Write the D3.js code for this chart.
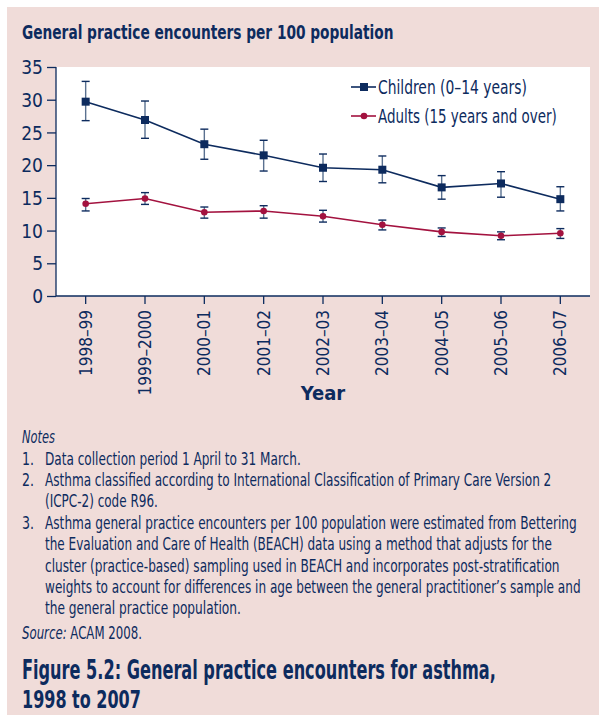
<!DOCTYPE html>
<html>
<head>
<meta charset="utf-8">
<script src="https://cdn.jsdelivr.net/npm/d3@7"></script>
<style>
  body{margin:0;background:#fff;}
  svg{display:block;}
  text{font-family:"Liberation Sans Narrow","DejaVu Sans Condensed","Roboto",sans-serif;fill:#0d2b5e;}
</style>
</head>
<body>
<div id="chart"></div>
<script>
// years on the x axis
const years = ["1998–99","1999–2000","2000–01","2001–02","2002–03","2003–04","2004–05","2005–06","2006–07"];
// children (0-14) rate, with lower / upper error bounds
const children = [29.7, 26.9, 23.2, 21.5, 19.6, 19.3, 16.6, 17.2, 14.8];
const childrenLow = [26.8, 24.1, 20.9, 19.1, 17.5, 17.3, 14.8, 15.1, 13.0];
const childrenHigh = [32.8, 29.8, 25.5, 23.8, 21.7, 21.4, 18.4, 19.0, 16.7];
// adults (15+) rate, with lower / upper error bounds
const adults = [14.1, 14.9, 12.8, 13.0, 12.2, 10.9, 9.8, 9.2, 9.6];
const adultsLow = [13.0, 14.0, 11.9, 11.9, 11.3, 10.1, 9.1, 8.6, 8.8];
const adultsHigh = [14.9, 15.8, 13.6, 13.8, 13.1, 11.6, 10.4, 9.8, 10.3];
const yTicks = [0, 5, 10, 15, 20, 25, 30, 35];
const seriesNames = ["Children (0–14 years)", "Adults (15 years and over)"];

const notes = [
  ["1.", "Data collection period 1 April to 31 March."],
  ["2.", "Asthma classified according to International Classification of Primary Care Version 2"],
  ["", "(ICPC-2) code R96."],
  ["3.", "Asthma general practice encounters per 100 population were estimated from Bettering"],
  ["", "the Evaluation and Care of Health (BEACH) data using a method that adjusts for the"],
  ["", "cluster (practice-based) sampling used in BEACH and incorporates post-stratification"],
  ["", "weights to account for differences in age between the general practitioner’s sample and"],
  ["", "the general practice population."]
];
const noteWidths = [256, 507, 113, 532, 507, 515, 536, 196];

const W = 599, H = 715;
const navy = "#0d2b5e", red = "#a3123f", errCol = "#5a7190";

const svg = d3.select("#chart").append("svg").attr("width", W).attr("height", H);

// squeeze a text sideways (condensed look) so it is as wide as in the reference
function squeeze(t, width){
  const nat = t.node().getComputedTextLength();
  if(nat <= width) return t;
  const x0 = +t.attr("x");
  t.attr("transform", `translate(${x0},0) scale(${width / nat},1) translate(${-x0},0)`);
  return t;
}

// pink panel
svg.append("rect").attr("x", 7).attr("y", 7).attr("width", W - 7).attr("height", H - 7).attr("fill", "#f0dcd9");

squeeze(svg.append("text").attr("x", 22).attr("y", 39)
   .attr("font-size", 20).attr("font-weight", "bold")
   .text("General practice encounters per 100 population"), 372);

const plot = {left: 56, right: 590, top: 67, bottom: 296};

svg.append("rect").attr("x", plot.left).attr("y", plot.top)
   .attr("width", plot.right - plot.left).attr("height", plot.bottom - plot.top).attr("fill", "white");

const x = d3.scaleBand().domain(years).range([plot.left, plot.right]);
const y = d3.scaleLinear().domain([0, 35]).range([plot.bottom, plot.top]);
const cx = (d) => x(d) + x.bandwidth() / 2;

// y axis
const yAxis = svg.append("g").attr("transform", `translate(${plot.left},0)`)
   .call(d3.axisLeft(y).tickValues(yTicks).tickSize(9).tickPadding(4));
yAxis.selectAll("text").attr("font-size", 19).attr("fill", navy).attr("dy", "0.35em");
yAxis.selectAll("line").attr("stroke", navy).attr("stroke-width", 1.3);
yAxis.select(".domain").attr("stroke", navy).attr("stroke-width", 1.3).attr("d", `M0,${plot.top}V${plot.bottom}`);

// x axis
const xAxis = svg.append("g").attr("transform", `translate(0,${plot.bottom})`)
   .call(d3.axisBottom(x).tickSize(8).tickPadding(0));
xAxis.select(".domain").attr("stroke", navy).attr("stroke-width", 1.3).attr("d", `M${plot.left},0H${plot.right}`);
xAxis.selectAll("line").attr("stroke", navy).attr("stroke-width", 1.3);
xAxis.selectAll("text")
   .attr("font-size", 17).attr("fill", navy)
   .attr("text-anchor", "end")
   .attr("transform", "rotate(-90)")
   .attr("x", -14).attr("y", 0).attr("dy", "0.35em");

svg.append("text").attr("x", 323).attr("y", 400).attr("text-anchor", "middle")
   .attr("font-size", 20).attr("font-weight", "bold").text("Year");

// error bars + lines
function drawSeries(vals, lo, hi, colour, marker){
  const g = svg.append("g");
  const idx = d3.range(years.length);
  g.selectAll(".eb").data(idx).enter().append("line")
   .attr("x1", (i) => cx(years[i])).attr("x2", (i) => cx(years[i]))
   .attr("y1", (i) => y(lo[i])).attr("y2", (i) => y(hi[i]))
   .attr("stroke", errCol).attr("stroke-width", 1.4);
  [lo, hi].forEach((arr) => {
    g.selectAll(null).data(idx).enter().append("line")
     .attr("x1", (i) => cx(years[i]) - 4).attr("x2", (i) => cx(years[i]) + 4)
     .attr("y1", (i) => y(arr[i])).attr("y2", (i) => y(arr[i]))
     .attr("stroke", navy).attr("stroke-width", 1.4);
  });
  const line = d3.line().x((i) => cx(years[i])).y((i) => y(vals[i]));
  g.append("path").attr("d", line(idx)).attr("fill", "none").attr("stroke", colour).attr("stroke-width", 1.6);
  if(marker == "square"){
    g.selectAll(null).data(idx).enter().append("rect")
     .attr("x", (i) => cx(years[i]) - 4).attr("y", (i) => y(vals[i]) - 4)
     .attr("width", 8).attr("height", 8).attr("fill", colour);
  }
  else{
    g.selectAll(null).data(idx).enter().append("circle")
     .attr("cx", (i) => cx(years[i])).attr("cy", (i) => y(vals[i])).attr("r", 3.3).attr("fill", colour);
  }
}
drawSeries(children, childrenLow, childrenHigh, navy, "square");
drawSeries(adults, adultsLow, adultsHigh, red, "circle");

// legend
const legend = [{name: seriesNames[0], c: navy, m: "square", y: 87, w: 149}, {name: seriesNames[1], c: red, m: "circle", y: 116, w: 179}];
legend.forEach((l) => {
  svg.append("line").attr("x1", 351).attr("x2", 376).attr("y1", l.y).attr("y2", l.y).attr("stroke", l.c).attr("stroke-width", 1.6);
  if(l.m == "square"){
    svg.append("rect").attr("x", 360).attr("y", l.y - 4).attr("width", 8).attr("height", 8).attr("fill", l.c);
  }
  else{
    svg.append("circle").attr("cx", 364).attr("cy", l.y).attr("r", 3.3).attr("fill", l.c);
  }
  squeeze(svg.append("text").attr("x", 378).attr("y", l.y).attr("dy", "0.35em").attr("font-size", 19).text(l.name), l.w);
});

// notes
squeeze(svg.append("text").attr("x", 22).attr("y", 443).attr("font-size", 17).attr("font-style", "italic").text("Notes"), 33);
const noteY = [465, 486, 507, 529, 550, 572, 593, 614];
notes.forEach((n, i) => {
  if(n[0] != ""){
    squeeze(svg.append("text").attr("x", 22).attr("y", noteY[i]).attr("font-size", 17).text(n[0]), 12);
  }
  squeeze(svg.append("text").attr("x", 45).attr("y", noteY[i]).attr("font-size", 17).text(n[1]), noteWidths[i]);
});
const src = svg.append("text").attr("x", 22).attr("y", 639).attr("font-size", 17);
src.append("tspan").attr("font-style", "italic").text("Source:");
src.append("tspan").text(" ACAM 2008.");
squeeze(src, 120);

squeeze(svg.append("text").attr("x", 22).attr("y", 679).attr("font-size", 26).attr("font-weight", "bold")
   .text("Figure 5.2: General practice encounters for asthma,"), 474);
squeeze(svg.append("text").attr("x", 22).attr("y", 708).attr("font-size", 25).attr("font-weight", "bold")
   .text("1998 to 2007"), 119);
</script>
</body>
</html>
